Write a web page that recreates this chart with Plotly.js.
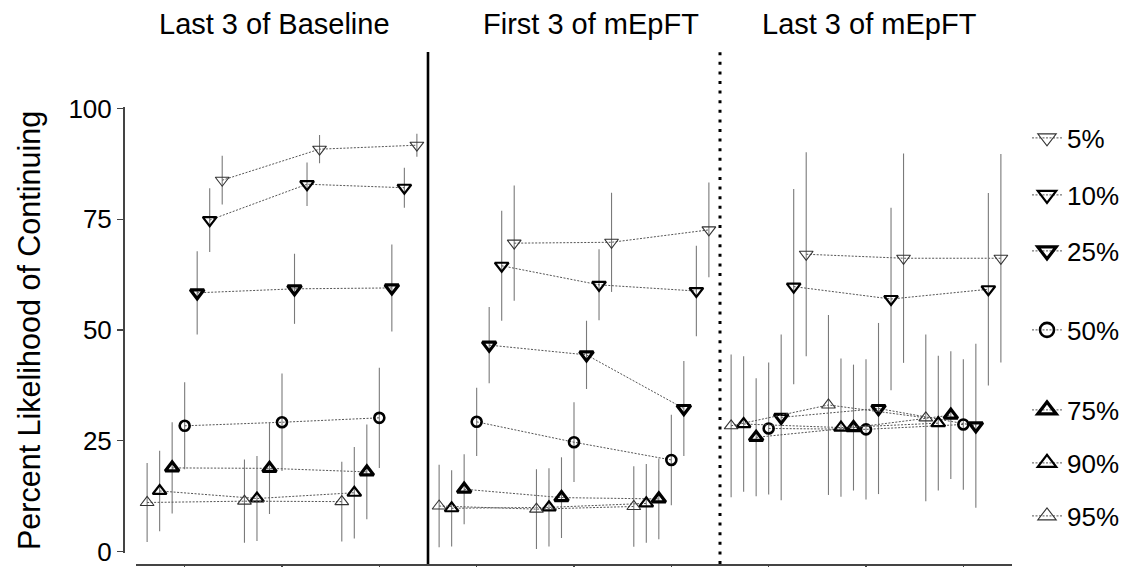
<!DOCTYPE html>
<html>
<head>
<meta charset="utf-8">
<script src="https://cdn.plot.ly/plotly-3.0.1.min.js"></script>
<style>html,body{margin:0;padding:0;background:#fff;}#chart{width:1132px;height:567px;}</style>
</head>
<body>
<div id="chart"></div>
<script>
// ---- data ----
const panelTitles = ['Last 3 of Baseline', 'First 3 of mEpFT', 'Last 3 of mEpFT'];
const sessions = [1, 2, 3, 4, 5, 6, 7, 8, 9];
const seriesNames = ['5%', '10%', '25%', '50%', '75%', '90%', '95%'];
const yTicks = [0, 25, 50, 75, 100];

const p5      = [83.8, 90.8, 91.7, 69.6, 69.8, 72.6, 67.1, 66.2, 66.2];
const p5_err  = [5.5, 3.2, 2.6, 13.0, 11.2, 10.7, 23.0, 23.6, 23.5];
const p10     = [74.8, 82.9, 82.1, 64.5, 60.2, 58.8, 59.8, 57.0, 59.2];
const p10_err = [7.2, 4.9, 4.5, 12.4, 8.0, 10.2, 22.0, 20.6, 21.7];
const p25     = [58.4, 59.3, 59.5, 46.6, 44.4, 32.3, 30.3, 32.3, 28.4];
const p25_err = [9.4, 7.9, 9.8, 8.6, 7.7, 10.7, 18.7, 19.3, 18.5];
const p50     = [28.4, 29.2, 30.2, 29.3, 24.7, 20.7, 27.8, 27.6, 28.7];
const p50_err = [9.8, 11.0, 11.3, 7.7, 9.0, 10.2, 14.9, 15.8, 14.7];
const p75     = [18.9, 18.8, 18.0, 14.1, 12.2, 11.9, 25.8, 28.0, 30.8];
const p75_err = [10.3, 10.3, 10.7, 7.9, 9.1, 9.1, 13.3, 14.2, 14.4];
const p90     = [13.7, 12.0, 13.3, 9.8, 10.0, 10.9, 28.8, 28.0, 29.0];
const p90_err = [9.1, 9.6, 10.3, 8.6, 8.8, 8.9, 15.3, 15.6, 15.2];
const p95     = [11.1, 11.4, 11.3, 10.3, 9.6, 10.2, 28.4, 33.1, 30.2];
const p95_err = [8.9, 9.4, 9.0, 9.3, 9.0, 9.1, 16.1, 20.3, 18.8];

const values = [p5, p10, p25, p50, p75, p90, p95];
const errors = [p5_err, p10_err, p25_err, p50_err, p75_err, p90_err, p95_err];

// ---- styles ----
const FONT = '"Liberation Sans", Arial, sans-serif';
const symbols = ['triangle-down-open', 'triangle-down-open', 'triangle-down-open', 'circle-open',
                 'triangle-up-open', 'triangle-up-open', 'triangle-up-open'];
const strokeW = [1.1, 2.2, 3.2, 2.6, 3.2, 2.2, 1.1];
const strokeC = ['#333', '#000', '#000', '#000', '#000', '#000', '#333'];
const sizes   = [12, 12, 12, 10, 12, 12, 12];
const legendY = [138, 195, 251, 330, 410, 463, 516];   // px centres of legend rows

const DODGE = 0.9 / 7;
const M = {l: 123, r: 120, t: 52, b: 3};
const W = 1132, H = 567;
const plotW = W - M.l - M.r, plotH = H - M.t - M.b;
const py = px => (H - M.b - px) / plotH;
const yPx = v => 551.7 - 4.433 * v;   // pixel mapping of the value axis
const YR = [-0.4, 100.4];

const traces = [];
const layout = {
  width: W, height: H,
  margin: M,
  paper_bgcolor: '#fff', plot_bgcolor: '#fff',
  showlegend: true,
  font: {family: FONT, color: '#000'},
  xaxis: {
    domain: [13 / plotW, 1],
    range: [0.5, 9.5],
    anchor: 'free', position: 0,
    showgrid: false, zeroline: false,
    showline: true, linecolor: '#444', linewidth: 1.5,
    ticks: 'outside', ticklen: 6, tickcolor: '#444', tickwidth: 1.2,
    tickvals: sessions, showticklabels: false
  },
  yaxis: {
    domain: [py(yPx(YR[0])), py(yPx(YR[1]))],
    range: YR,
    anchor: 'free', position: 0,
    showgrid: false, zeroline: false,
    showline: true, linecolor: '#444', linewidth: 1.5,
    ticks: 'outside', ticklen: 6, tickcolor: '#444', tickwidth: 1.2,
    tickvals: yTicks, ticktext: yTicks.map(String),
    tickfont: {family: FONT, size: 26, color: '#000'}
  },
  shapes: [
    {type: 'line', xref: 'x', yref: 'paper', x0: 3.5, x1: 3.5, y0: 0, y1: 1,
     line: {color: '#000', width: 2.6}},
    {type: 'line', xref: 'x', yref: 'paper', x0: 6.5, x1: 6.5, y0: 0, y1: 1,
     line: {color: '#000', width: 3, dash: '3px,6.6px'}}
  ],
  annotations: [
    {xref: 'paper', yref: 'paper', x: (29 - M.l) / plotW, y: py(331), xanchor: 'center', yanchor: 'middle',
     text: 'Percent Likelihood of Continuing', textangle: -90, showarrow: false,
     font: {family: FONT, size: 30.5, color: '#000'}}
  ]
};

const titleX = [1.92, 5.17, 8.04];
panelTitles.forEach((t, i) => {
  layout.annotations.push({xref: 'x', yref: 'paper', x: titleX[i], y: py(24),
    xanchor: 'center', yanchor: 'middle', text: t, showarrow: false,
    font: {family: FONT, size: 29, color: '#000'}});
});

seriesNames.forEach((name, i) => {
  const off = (3 - i) * DODGE;
  const xs = [], ys = [], es = [];
  sessions.forEach((s, j) => {
    if (j > 0 && j % 3 === 0) { xs.push(null); ys.push(null); es.push(null); }
    xs.push(s + off); ys.push(values[i][j]); es.push(errors[i][j]);
  });
  traces.push({
    type: 'scatter', mode: 'lines+markers', name: name, showlegend: false,
    x: xs, y: ys, connectgaps: false,
    line: {color: '#555', width: 1, dash: '2px,1.5px'},
    marker: {symbol: symbols[i], size: sizes[i], color: strokeC[i], line: {width: strokeW[i], color: strokeC[i]}},
    error_y: {type: 'data', array: es, visible: true, color: '#7a7a7a', thickness: 1.1, width: 0},
    cliponaxis: false
  });
  const lg = i === 0 ? 'legend' : 'legend' + (i + 1);
  traces.push({
    type: 'scatter', mode: 'lines+markers', name: name, legend: lg, showlegend: true,
    x: [null], y: [null],
    line: {color: '#555', width: 1, dash: '2px,1.5px'},
    marker: {symbol: symbols[i], size: i === 3 ? 14 : 16, color: strokeC[i], line: {width: strokeW[i], color: strokeC[i]}}
  });
  layout[lg] = {
    x: (1027 - M.l) / plotW, xanchor: 'left',
    y: py(legendY[i]), yanchor: 'middle',
    bgcolor: 'rgba(0,0,0,0)', borderwidth: 0,
    font: {family: FONT, size: 26, color: '#000'},
    itemwidth: 30, tracegroupgap: 0
  };
});

Plotly.newPlot('chart', traces, layout, {staticPlot: true, displayModeBar: false});
</script>
</body>
</html>
